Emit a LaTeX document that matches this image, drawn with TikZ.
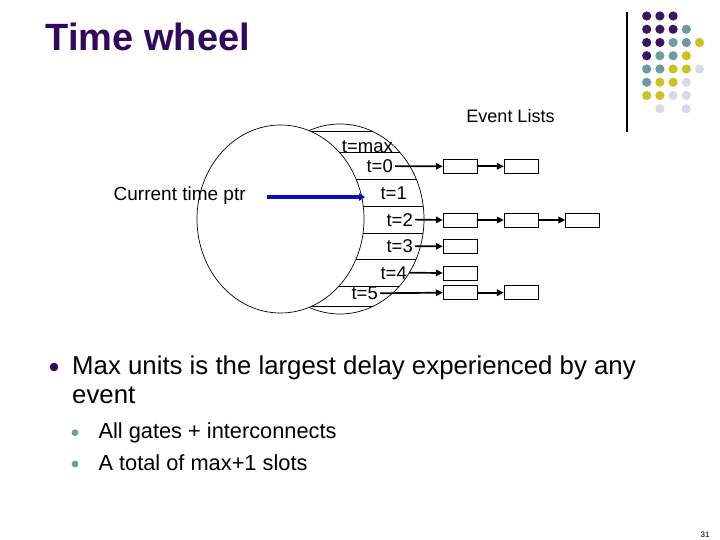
\documentclass[tikz,border=0pt]{standalone}
\usepackage{fontspec}
\setmainfont{Liberation Sans}
\usetikzlibrary{arrows.meta}
\definecolor{tpurple}{RGB}{48,8,92}
\definecolor{dpurple}{RGB}{62,22,96}
\definecolor{dteal}{RGB}{110,155,160}
\definecolor{dyellow}{RGB}{200,195,30}
\definecolor{dlav}{RGB}{216,216,234}
\definecolor{pblue}{RGB}{10,10,190}
\tikzset{
  slotlbl/.style={anchor=base east, inner sep=2pt, font=\fontsize{18.5}{20}\selectfont},
  evbox/.style={draw, line width=0.9pt, minimum width=34pt, minimum height=14pt, inner sep=0pt},
  evarrow/.style={line width=1.7pt, -{Triangle[length=7pt,width=6.5pt]}},
  plain/.style={anchor=base west, inner sep=0pt},
  wheel/.style={line width=0.7pt}
}
\begin{document}
\begin{tikzpicture}[x=1pt,y=-1pt]
\useasboundingbox[fill=white] (0,0) rectangle (720,540);

% title
\node[plain, text=tpurple, font=\fontsize{38}{40}\selectfont\bfseries] (title) at (45.5,50.7) {Time wheel};

% logo dots and rule
\draw[line width=1.2pt] (627,12) -- (627,132);
\foreach \c/\r/\col in {1/1/dpurple,2/1/dpurple,3/1/dpurple,
  1/2/dpurple,2/2/dpurple,3/2/dpurple,4/2/dteal,
  1/3/dpurple,2/3/dpurple,3/3/dteal,4/3/dteal,5/3/dyellow,
  1/4/dpurple,2/4/dteal,3/4/dteal,4/4/dyellow,
  1/5/dteal,2/5/dteal,3/5/dyellow,4/5/dyellow,5/5/dlav,
  1/6/dteal,2/6/dyellow,3/6/dyellow,4/6/dlav,
  1/7/dyellow,2/7/dyellow,3/7/dlav,4/7/dlav,
  2/8/dlav,4/8/dlav}
  \fill[\col] ({646.7+13.2*(\c-1)},{16+13.25*(\r-1)}) circle[radius=4.6];

% wheel: back ellipse, slot lines, front ellipse
\draw[wheel] (340,219) ellipse [x radius=84, y radius=95];
\begin{scope}
  \clip (340,219) ellipse [x radius=84, y radius=95];
  \foreach \y in {131.7,152,179,206,233,259,286,306}
    \draw[wheel] (250,\y) -- (440,\y);
\end{scope}
\draw[wheel, fill=white] (280.5,219) ellipse [x radius=83.5, y radius=94];

% slot labels
\node[slotlbl] (lmax) at (395,152.5) {t=max};
\node[slotlbl] (l0) at (395,172.5) {t=0};
\node[slotlbl] (l1) at (409,199.5) {t=1};
\node[slotlbl] (l2) at (415,226) {t=2};
\node[slotlbl] (l3) at (415,252.5) {t=3};
\node[slotlbl] (l4) at (409,279) {t=4};
\node[slotlbl] (l5) at (380,299.5) {t=5};

% event list boxes
\node[evbox] (b01) at (460.3,166.3) {};
\node[evbox] (b02) at (521.3,166.3) {};
\node[evbox] (b21) at (460.3,220) {};
\node[evbox] (b22) at (521.3,220) {};
\node[evbox] (b23) at (582.8,220) {};
\node[evbox] (b31) at (460.3,246.3) {};
\node[evbox] (b41) at (460.3,273) {};
\node[evbox] (b51) at (460.3,292.7) {};
\node[evbox] (b52) at (521.3,292.7) {};

\draw[evarrow] (l0.east) -- (b01.west);
\draw[evarrow] (b01.east) -- (b02.west);
\draw[evarrow] (l2.east) -- (b21.west);
\draw[evarrow] (b21.east) -- (b22.west);
\draw[evarrow] (b22.east) -- (b23.west);
\draw[evarrow] (l3.east) -- (b31.west);
\draw[evarrow] (l4.east) -- (b41.west);
\draw[evarrow] (l5.east) -- (b51.west);
\draw[evarrow] (b51.east) -- (b52.west);

\node[font=\fontsize{18}{20}\selectfont, anchor=base, inner sep=0pt] (evl) at (510.5,123) {Event Lists};

% current time pointer
\node[plain, font=\fontsize{19}{21}\selectfont] (ctp) at (113.5,200.7) {Current time ptr};
\coordinate (pA) at (267,197);
\coordinate (pB) at (365,197);
\draw[pblue, line width=3.2pt, -{Triangle[length=6pt,width=7.5pt]}] (pA) -- (pB);

% bullets
\fill[tpurple] (54,367) circle[radius=4.3];
\node[plain, font=\fontsize{25.8}{30}\selectfont] (t1a) at (72,374) {Max units is the largest delay experienced by any};
\node[plain, font=\fontsize{25.8}{30}\selectfont] (t1b) at (72,403.3) {event};
\fill[dteal] (75,432.7) circle[radius=3.4];
\fill[dteal] (75,464) circle[radius=3.4];
\node[plain, font=\fontsize{21.8}{24}\selectfont] (t2) at (98.3,438.3) {All gates + interconnects};
\node[plain, font=\fontsize{21.8}{24}\selectfont] (t3) at (98.3,470) {A total of max+1 slots};

\node[font=\fontsize{8}{9}\selectfont, inner sep=0pt] (pg) at (705,535) {31};
\end{tikzpicture}
\end{document}
